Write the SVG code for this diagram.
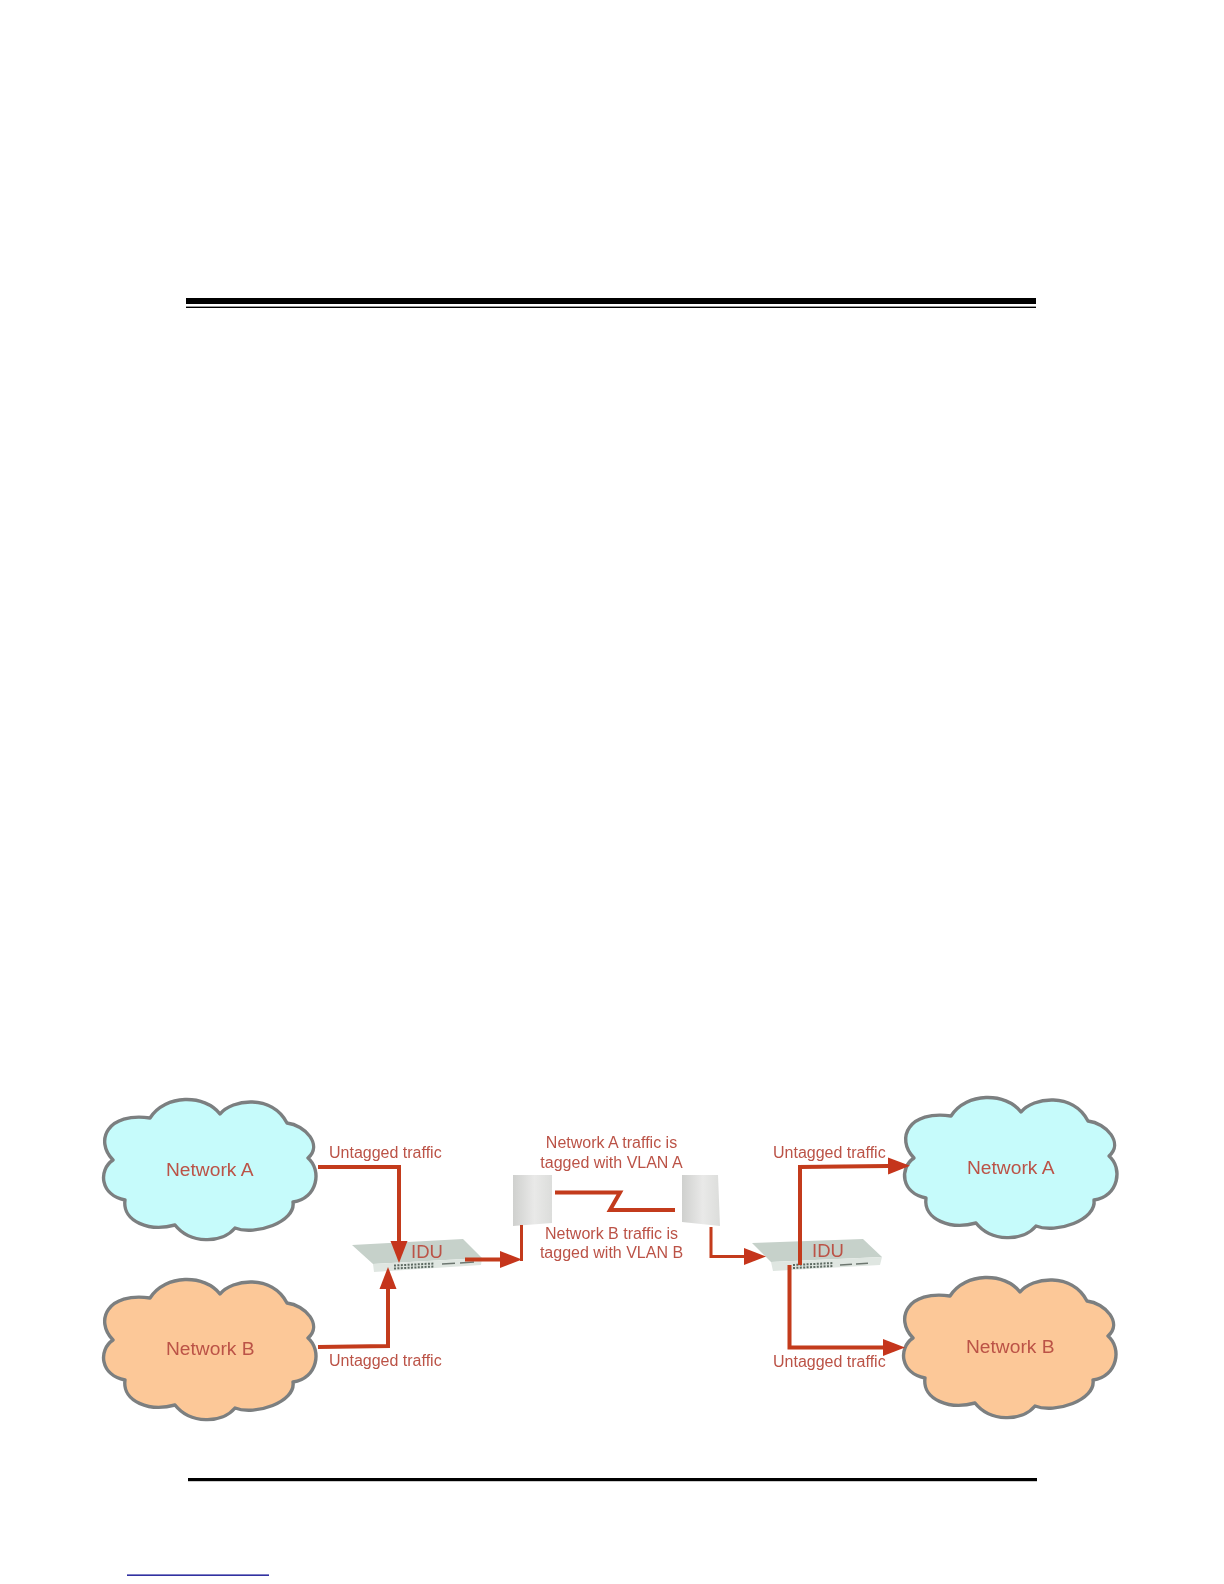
<svg xmlns="http://www.w3.org/2000/svg" xmlns:xlink="http://www.w3.org/1999/xlink" width="1224" height="1584" viewBox="0 0 1224 1584">
<style>
.cloud{stroke:#7b7f80;stroke-width:3.4;stroke-linejoin:round}
.a{fill:#c6fbfb}.b{fill:#fcc898}
text{font-family:"Liberation Sans",Arial,sans-serif;fill:#bb5246}
.net{font-size:19.2px}.small{font-size:16px}.idu{font-size:18.500px}
.mid{font-size:16px;text-anchor:middle}
.conn{fill:none;stroke:#c33a1c;stroke-linejoin:miter}
.thick{stroke-width:4}.thin{stroke-width:3}
.ant{stroke:none}
.top{fill:#c6d1ca}.front{fill:#dfe6e1}
.port{stroke:#5d6a62;stroke-width:2;stroke-dasharray:2 1.4;fill:none}
</style>
<defs>
<path id="cloud" d="M220 1114C232 1099 272 1094 287 1123C305 1125 323 1145 308 1158C322 1170 318 1198 293 1202C296 1222 255 1236 235 1228C222 1244 190 1244 175 1225C150 1232 122 1222 125 1200C100 1195 98 1170 113 1160C94 1140 108 1112 150 1118C165 1094 205 1094 220 1114Z"/>
<marker id="head" markerUnits="userSpaceOnUse" markerWidth="23" markerHeight="18" refX="0" refY="9" orient="auto">
<polygon points="0,0.5 22,9 0,17.5" fill="#c5361a"/>
</marker>
<linearGradient id="antL" x1="0" y1="0" x2="1" y2="0"><stop offset="0" stop-color="#cfd0ce"/><stop offset="0.55" stop-color="#e9e9e8"/><stop offset="1" stop-color="#dcdddb"/></linearGradient>
<filter id="soft" x="-2%" y="-2%" width="104%" height="104%"><feGaussianBlur stdDeviation="0.55"/></filter>
<filter id="softer" x="-10%" y="-10%" width="120%" height="120%"><feGaussianBlur stdDeviation="0.7"/></filter>
</defs>
<rect width="1224" height="1584" fill="#ffffff"/>
<g id="page-rules">
<rect x="186" y="298" width="850" height="6" fill="#000"/>
<rect x="186" y="306.600" width="850" height="1.400" fill="#000"/>
<rect x="188" y="1478" width="849" height="3.200" fill="#000"/>
<rect x="127" y="1574.500" width="142" height="1.300" fill="#00008b"/>
</g>
<g filter="url(#soft)">
<g id="net-a-left"><use xlink:href="#cloud" href="#cloud" class="cloud a"/><text class="net" x="166" y="1176">Network A</text></g>
<g id="net-b-left"><use xlink:href="#cloud" href="#cloud" class="cloud b" transform="translate(0 180)"/><text class="net" x="166" y="1355">Network B</text></g>
<g id="net-a-right"><use xlink:href="#cloud" href="#cloud" class="cloud a" transform="translate(801 -2)"/><text class="net" x="967" y="1174">Network A</text></g>
<g id="net-b-right"><use xlink:href="#cloud" href="#cloud" class="cloud b" transform="translate(800 178)"/><text class="net" x="966" y="1353">Network B</text></g>
<g id="idu-left">
<g filter="url(#softer)">
<polygon class="top" points="352,1245 463,1239 482,1258 373,1264"/>
<polygon class="front" points="373,1264 482,1258 481,1265 374,1272"/>
</g>
<path class="port" d="M394 1265.500L434 1263.500M394 1268.500L434 1266.500"/>
<path d="M442 1264L455 1263.300M460 1263L474 1262" stroke="#6d7770" stroke-width="1.500" fill="none"/>
<text class="idu" x="411" y="1258">IDU</text>
</g>
<g id="idu-right">
<g filter="url(#softer)">
<polygon class="top" points="752,1243 863,1239 882,1257 771,1262"/>
<polygon class="front" points="771,1262 882,1257 880,1265 773,1271"/>
</g>
<path class="port" d="M793 1265L833 1263M793 1268L833 1266"/>
<path d="M840 1265L852 1264.300M856 1264L868 1263.300" stroke="#6d7770" stroke-width="1.500" fill="none"/>
<text class="idu" x="812" y="1257">IDU</text>
</g>
<g id="antenna-left"><polygon class="ant" filter="url(#softer)" fill="url(#antL)" points="513,1175 552,1175 552,1223 513,1226"/></g>
<g id="antenna-right"><polygon class="ant" filter="url(#softer)" fill="url(#antL)" points="682,1175 718,1175 720,1226 682,1222"/></g>
<g id="connectors">
<path class="conn thick" d="M318 1167H399V1241" marker-end="url(#head)"/>
<path class="conn thick" d="M318 1347L388 1346V1289" marker-end="url(#head)"/>
<path class="conn thick" d="M465 1259.500H500" marker-end="url(#head)"/>
<path class="conn thin" d="M521.500 1225V1261"/>
<path class="conn thick" d="M555 1192.500H620L610 1210H675"/>
<path class="conn thin" d="M711 1227V1256.500H744" marker-end="url(#head)"/>
<path class="conn thick" d="M800 1265V1167L888 1166" marker-end="url(#head)"/>
<path class="conn thick" d="M789.500 1265V1347.500H883" marker-end="url(#head)"/>
</g>
<g id="labels">
<text class="small" x="329" y="1158">Untagged traffic</text>
<text class="small" x="329" y="1366">Untagged traffic</text>
<text class="small" x="773" y="1158">Untagged traffic</text>
<text class="small" x="773" y="1367">Untagged traffic</text>
<text class="mid" x="611.500" y="1148">Network A traffic is</text>
<text class="mid" x="611.500" y="1168">tagged with VLAN A</text>
<text class="mid" x="611.500" y="1239">Network B traffic is</text>
<text class="mid" x="611.500" y="1258">tagged with VLAN B</text>
</g>
</g>
</svg>
